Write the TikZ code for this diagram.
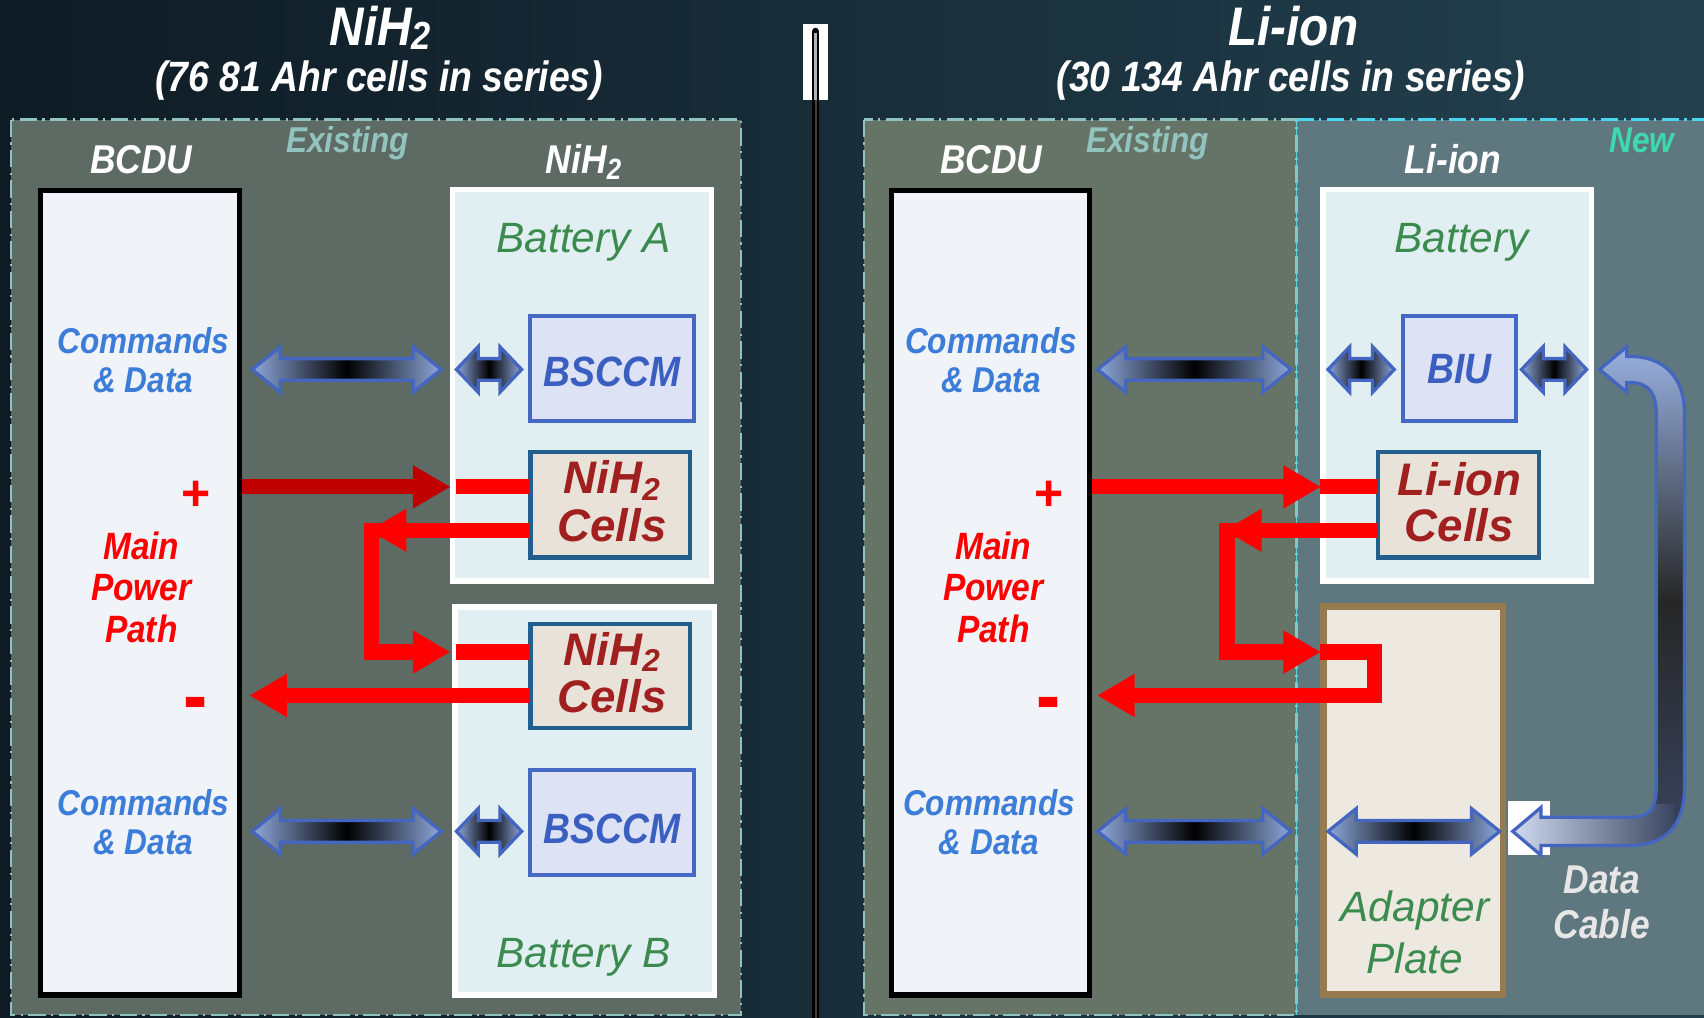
\documentclass[tikz,border=0pt]{standalone}
\usepackage{fontspec}
\setmainfont{Liberation Sans}
\newfontfamily\nb{Liberation Sans}[FakeStretch=0.88]
\newcommand\fs[1]{\fontsize{#1}{#1}\selectfont}
\newcommand\subtwo[1]{\raisebox{-0.15em}{\fontsize{#1}{#1}\selectfont 2}}
\newcommand\subtwot[1]{\raisebox{-0.08em}{\fontsize{#1}{#1}\selectfont 2}}
\definecolor{bgL}{HTML}{0E1B24}
\definecolor{bgR}{HTML}{23404F}
\definecolor{panelLC}{HTML}{5D6B64}
\definecolor{panelRC}{HTML}{667467}
\definecolor{newC}{HTML}{5F777F}
\definecolor{dashC}{HTML}{8EC3C0}
\definecolor{cyanC}{HTML}{4AD6EE}
\definecolor{existC}{HTML}{93C3BD}
\definecolor{newT}{HTML}{3FD9B0}
\definecolor{bcduF}{HTML}{F0F3F7}
\definecolor{battF}{HTML}{E2EFF2}
\definecolor{ctrlB}{HTML}{4468C4}
\definecolor{ctrlF}{HTML}{DDE3F4}
\definecolor{ctrlT}{HTML}{3B5FC0}
\definecolor{cellB}{HTML}{225F8D}
\definecolor{cellF}{HTML}{E9E2D8}
\definecolor{cellT}{HTML}{A02020}
\definecolor{adB}{HTML}{977B4F}
\definecolor{adF}{HTML}{EDE9E0}
\definecolor{cmdC}{HTML}{3B7DD8}
\definecolor{batC}{HTML}{3B8B4F}
\definecolor{pred}{HTML}{FF0000}
\definecolor{predD}{HTML}{C00000}
\definecolor{arrB}{HTML}{4466C0}
\definecolor{arrL}{HTML}{8EA8DC}
\definecolor{tubeD}{HTML}{3A4560}
\definecolor{cabC}{HTML}{E6E6E6}
\newcommand\dbl[4]{%
  \path[dblarrow] (#1,#3) -- (#1+#4,#3-21) -- (#1+#4,#3-10) -- (#2-#4,#3-10) -- (#2-#4,#3-21) -- (#2,#3)
    -- (#2-#4,#3+21) -- (#2-#4,#3+10) -- (#1+#4,#3+10) -- (#1+#4,#3+21) -- cycle;}
\newcommand\headR[3]{\fill[#3] (#1,#2) -- (#1-34,#2-20) -- (#1-34,#2+20) -- cycle;}
\newcommand\headL[3]{\fill[#3] (#1,#2) -- (#1+34,#2-20) -- (#1+34,#2+20) -- cycle;}
\newcommand\tubepath{(1472,340) -- (1497,319) -- (1497,328) -- (1500,328)
  .. controls (1532,328) and (1550,348) .. (1550,380) -- (1550,725)
  .. controls (1550,760) and (1532,778) .. (1500,778) -- (1418,778) -- (1418,787) -- (1392,765)
  -- (1418,743) -- (1418,752) -- (1500,752)
  .. controls (1517,752) and (1524,745) .. (1524,725) -- (1524,380)
  .. controls (1524,362) and (1517,352) .. (1500,352) -- (1497,352) -- (1497,361) -- cycle}
\begin{document}
\begin{tikzpicture}[x=1pt,y=-1pt,
  every node/.style={inner sep=0pt, outer sep=0pt},
  panel/.style={draw=dashC, line width=2pt, dash pattern=on 16pt off 5pt on 2pt off 5pt},
  bcdu/.style={draw=black, line width=5pt, fill=bcduF, anchor=north west},
  batt/.style={draw=white, line width=5pt, fill=battF, anchor=north west},
  ctrl/.style={draw=ctrlB, line width=3.5pt, fill=ctrlF, anchor=north west},
  cellbox/.style={draw=cellB, line width=4pt, fill=cellF, anchor=north west},
  adapt/.style={draw=adB, line width=6pt, fill=adF, anchor=north west},
  dblarrow/.style={draw=arrB, line width=3pt, line join=miter, left color=arrL, right color=arrL, middle color=black},
  rline/.style={draw=pred, line width=14pt},
  ttl/.style={font=\nb\bfseries\itshape\fs{50}, text=white, anchor=base},
  sttl/.style={font=\nb\bfseries\itshape\fs{39}, text=white, anchor=base},
  hdr/.style={font=\nb\bfseries\itshape\fs{37}, text=white, anchor=base},
  exist/.style={font=\nb\bfseries\itshape\fs{33}, text=existC, anchor=base},
  cmd/.style={font=\nb\bfseries\itshape\fs{33}, text=cmdC, anchor=base},
  pwr/.style={font=\nb\bfseries\itshape\fs{35}, text=pred, anchor=base},
  sign/.style={font=\bfseries\fs{46}, text=pred},
  batlbl/.style={font=\itshape\fs{39}, text=batC, anchor=base},
  ctrltxt/.style={font=\nb\bfseries\itshape\fs{39}, text=ctrlT},
  celltxt/.style={font=\bfseries\itshape\fs{42}, text=cellT, anchor=base},
  cable/.style={font=\nb\bfseries\itshape\fs{37}, text=cabC, anchor=base}]
\useasboundingbox (0,0) rectangle (1568,936);
\fill[left color=bgL, right color=bgR] (0,0) rectangle (1568,936);

% panels
\path[panel, fill=panelLC] (10,110) rectangle (682,934);
\path[fill=newC] (1193,110) rectangle (1575,934);
\draw[cyanC, line width=2pt, dash pattern=on 16pt off 5pt on 2pt off 5pt] (1193,110) -- (1575,110);
\path[panel, fill=panelRC] (795,110) rectangle (1193,934);
\draw[cyanC!70!dashC, line width=1.5pt, dash pattern=on 16pt off 5pt on 2pt off 5pt] (1193,110) -- (1193,934);

% separator
\fill[white] (739,22) rectangle (762,92);
\draw[black, line width=7pt, line cap=round] (750.5,29) -- (750.5,940);
\draw[black!75, line width=2pt] (750.5,92) -- (750.5,940);
\draw[black!30, line width=2.5pt] (750.5,30) -- (750.5,92);

% titles
\node[ttl] (t1) at (350,42) {NiH\subtwot{36}};
\node[sttl] (t1s) at (349,84) {(76 81 Ahr cells in series)};
\node[ttl] (t2) at (1190,42) {Li-ion};
\node[sttl] (t2s) at (1188,84) {(30 134 Ahr cells in series)};

% headers
\node[exist] (ex1) at (320,140) {Existing};
\node[exist] (ex2) at (1056,140) {Existing};
\node[exist, text=newT] (new) at (1511,140) {New};
\node[hdr] (h1) at (130,160) {BCDU};
\node[hdr] (h2) at (537,160) {NiH\subtwo{27}};
\node[hdr] (h3) at (912,160) {BCDU};
\node[hdr] (h4) at (1337,160) {Li-ion};

% boxes left
\node[bcdu, minimum width=183, minimum height=740] (bcduL) at (37.5,175.5) {};
\node[batt, minimum width=238, minimum height=360] (batA) at (416.5,174.5) {};
\node[batt, minimum width=239, minimum height=357] (batB) at (418.5,558.5) {};
\node[ctrl, minimum width=150.5, minimum height=96.5] (bs1) at (487.75,290.75) {};
\node[cellbox, minimum width=147, minimum height=97] (c1) at (488,416) {};
\node[cellbox, minimum width=147, minimum height=96] (c2) at (488,574) {};
\node[ctrl, minimum width=150.5, minimum height=96.5] (bs2) at (487.75,708.75) {};

% boxes right
\node[bcdu, minimum width=182, minimum height=740] (bcduR) at (820.5,175.5) {};
\node[batt, minimum width=247, minimum height=360] (batR) at (1217.5,174.5) {};
\node[ctrl, minimum width=104.5, minimum height=96.5] (biu) at (1290.75,290.75) {};
\node[cellbox, minimum width=148, minimum height=97] (c3) at (1268,416) {};
\node[adapt, minimum width=165, minimum height=357] (adp) at (1218,558) {};

% box texts left
\node[cmd] (cmd1a) at (132,325) {Commands};
\node[cmd] (cmd1b) at (132,361) {\& Data};
\node[sign] (plus1) at (180,456) {+};
\node[pwr] (mpp1a) at (130,515) {Main};
\node[pwr] (mpp1b) at (130,553) {Power};
\node[pwr] (mpp1c) at (130,591) {Path};
\node[sign] (min1) at (180,654) {\scalebox{1.45}[1.7]{-}};
\node[cmd] (cmd2a) at (132,750) {Commands};
\node[cmd] (cmd2b) at (132,786) {\& Data};
\node[batlbl] (bA) at (537,232) {Battery A};
\node[ctrltxt] (bs1t) at (563,342) {BSCCM};
\node[celltxt] (c1a) at (563,454) {NiH\subtwo{29}};
\node[celltxt] (c1b) at (563,498) {Cells};
\node[celltxt] (c2a) at (563,612) {NiH\subtwo{29}};
\node[celltxt] (c2b) at (563,656) {Cells};
\node[ctrltxt] (bs2t) at (563,763) {BSCCM};
\node[batlbl] (bB) at (537,890) {Battery B};

% box texts right
\node[cmd] (cmd3a) at (912,325) {Commands};
\node[cmd] (cmd3b) at (912,361) {\& Data};
\node[sign] (plus2) at (965,456) {+};
\node[pwr] (mpp2a) at (914,515) {Main};
\node[pwr] (mpp2b) at (914,553) {Power};
\node[pwr] (mpp2c) at (914,591) {Path};
\node[sign] (min2) at (965,654) {\scalebox{1.45}[1.7]{-}};
\node[cmd] (cmd4a) at (910,750) {Commands};
\node[cmd] (cmd4b) at (910,786) {\& Data};
\node[batlbl] (bR) at (1345,232) {Battery};
\node[ctrltxt] (biut) at (1343,340) {BIU};
\node[celltxt] (c3a) at (1343,456) {Li-ion};
\node[celltxt] (c3b) at (1343,498) {Cells};
\node[batlbl] (adt1) at (1302,848) {Adapter};
\node[batlbl] (adt2) at (1302,896) {Plate};
\node[cable] (dc1) at (1474,822) {Data};
\node[cable] (dc2) at (1474,864) {Cable};

% data / command double arrows
\dbl{232}{406}{340}{26}
\dbl{420}{480}{340}{20}
\dbl{232}{406}{765}{26}
\dbl{420}{480}{765}{20}
\dbl{1010}{1188}{340}{26}
\dbl{1222}{1283}{340}{20}
\dbl{1400}{1460}{340}{20}
\dbl{1010}{1188}{765}{26}
\dbl{1222}{1380}{765}{26}

% data cable
\fill[white] (1388,737) rectangle (1426,787);
\path[top color=arrL!90!white, bottom color=tubeD, middle color=black!85] \tubepath;
\begin{scope}
  \clip \tubepath;
  \path[left color=arrL!40!white, right color=tubeD] (1390,740) rectangle (1540,790);
\end{scope}
\path[draw=arrB, line width=3pt, line join=miter] \tubepath;

% power paths left
\draw[rline, draw=predD] (bcduL.east |- 0,448) ++(2.5,0) -- (381,448);
\headR{414}{448}{predD}
\draw[rline] (420,448) -- (c1.west |- 0,448);
\draw[rline] (c1.west |- 0,488) -- (342,488) -- (342,600) -- (381,600);
\headL{340}{488}{pred}
\headR{414}{600}{pred}
\draw[rline] (420,600) -- (c2.west |- 0,600);
\draw[rline] (c2.west |- 0,640) -- (263,640);
\headL{230}{640}{pred}

% power paths right
\draw[rline] (bcduR.east |- 0,448) ++(2.5,0) -- (1182,448);
\headR{1215}{448}{pred}
\draw[rline] (1215,448) -- (c3.west |- 0,448);
\draw[rline] (c3.west |- 0,488) -- (1129,488) -- (1129,600) -- (1182,600);
\headL{1127}{488}{pred}
\headR{1215}{600}{pred}
\draw[rline] (1215,600) -- (1265,600) -- (1265,640) -- (1043,640);
\headL{1010}{640}{pred}
\end{tikzpicture}
\end{document}
